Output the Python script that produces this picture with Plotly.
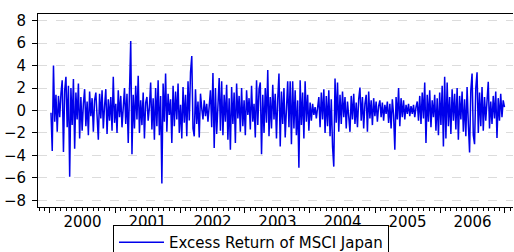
import pandas as pd
import plotly.graph_objects as go

# Weekly excess returns of MSCI Japan, 2000-01-07 .. 2006-12-29
seg_2000 = [-0.2, -3.6, 4.0, -1.0, 1.4, -1.9, 1.3, -0.6, 1.5, 2.7, -3.7, 1.8,
            3.0, -1.5, 2.2, -5.9, 2.0, -1.3, 2.8, -3.4, 1.6, -0.8, 2.4, -2.5,
            1.2, -1.8, 0.6, 1.9, -1.4, 0.8, -2.2, 1.7, -0.5, 1.1, -1.9, 0.9,
            1.6, -1.2, -2.6, 1.5, -0.7, 1.8, -1.6, 0.4, 1.9, -2.1, 1.0, -0.9]
seg_2001 = [1.2, -1.8, 3.0, -1.1, 0.6, -2.0, 1.8, -0.6, 1.3, -1.5, 0.4, 2.0,
            -1.2, 1.5, -2.9, 2.6, 6.2, -3.9, 1.4, -1.6, 2.2, -0.8, 3.1, -2.0,
            0.9, -1.3, 1.6, -2.5, 0.7, 1.2, -0.9, 0.3, 2.5, -1.7, 1.1, -2.6,
            2.0, -1.4, 2.7, -2.2, 1.3, -6.5, 2.4, -1.0, 3.3, -1.9, 1.5, -0.4]
seg_2002 = [1.0, -2.9, 2.2, -1.4, 1.7, -0.8, 2.4, -2.0, 0.5, -2.5, 2.1, -1.1,
            1.4, -2.3, 2.6, -0.9, 3.4, 4.85, -1.6, -2.3, 1.9, -1.2, 0.8, -2.4,
            1.5, 0.2, -0.8, 0.9, -0.5, 0.6, -1.0, 0.4, 1.8, -1.5, 3.35, -3.35,
            2.0, -2.1, 1.2, 2.9, -1.8, 2.6, -2.2, 1.4, -1.0, 2.3, -2.6, 1.1]
seg_2003 = [-3.5, 2.1, -1.2, 1.6, -2.9, 2.4, -0.7, 1.3, -1.9, 2.0, -1.4, 0.9,
            -2.2, 1.8, -0.4, 1.1, -1.7, 2.2, -1.0, 0.6, -2.4, 2.7, -1.3, 1.9,
            2.5, -3.9, 1.4, -2.0, 2.0, -1.1, 3.6, -2.3, 1.2, -1.6, 2.3, -0.8,
            1.5, -2.5, 1.0, 3.3, -3.2, 1.7, -1.2, 2.0, -2.4, 0.8, 2.6, -1.5]
seg_2004 = [2.6, -3.0, 2.6, -1.6, 1.8, -2.2, 0.9, -5.1, 2.7, -1.3, 1.6, -2.5,
            2.6, -1.0, 1.4, -1.8, 0.7, -0.9, 0.6, -0.4, 0.3, -0.7, 0.5, 1.2,
            -1.5, 1.6, -0.8, 1.9, -2.0, 1.3, -1.4, 1.8, -2.3, 1.0, -3.2, -5.0,
            2.85, -1.1, 2.5, -1.9, 1.4, -1.2, 1.7, -0.6, 1.2, -1.6, 0.8, -0.5]
seg_2005 = [-1.9, 1.3, -0.8, 1.5, -1.2, 0.7, -1.5, 1.0, 2.05, -0.9, 1.2, -1.6,
            0.6, 1.4, -1.9, 1.7, -0.7, 0.9, -1.3, 1.1, -0.5, 0.8, -1.0, 0.4,
            0.9, -0.6, 0.7, -0.9, 0.5, -0.3, 0.8, -1.1, 0.6, -1.6, 1.0, -0.4,
            -3.5, 1.2, -0.8, 2.0, -1.4, 1.1, -0.6, 0.9, -0.8, 0.5, -0.3, 0.6]
seg_2006a = [-0.5, 0.4, -0.3, 0.5, -0.6, 0.3, 0.8, -0.9, 1.3, -1.2, 1.6, -0.7,
             2.5, -2.9, 1.4, -1.0, 1.8, -1.5, 0.9, -0.6, 1.4, -1.8, 1.1, -2.2,
             1.6, -1.3, 2.2, -3.2, 3.0, -2.5, 2.5, -1.4, 1.2, -2.1, 1.9, -0.9,
             1.5, -1.7, 2.0, -2.6, 1.3, -0.8, 1.7, -1.9, 1.0, -2.3, 2.1, -1.2]
seg_2006b = [-3.75, 1.8, 3.3, -2.2, -3.0, 2.0, 3.4, -2.0, 1.6, -1.4, 2.1, -1.8,
             1.2, -0.9, 1.5, 2.55, -1.6, 0.8, -1.2, 1.3, -0.7, 1.7, -2.45, 1.1,
             -0.9, 1.5, -0.6, 0.9, 0.3]

values = seg_2000 + seg_2001 + seg_2002 + seg_2003 + seg_2004 + seg_2005 + seg_2006a + seg_2006b
dates = pd.date_range("2000-01-07", periods=len(values), freq="7D")

series_name = "Excess Return of MSCI Japan"
y_ticks = [-8, -6, -4, -2, 0, 2, 4, 6, 8]

FONT = "DejaVu Sans"

fig = go.Figure()
fig.add_trace(go.Scatter(
    x=dates, y=values, mode="lines", name=series_name,
    line=dict(color="rgb(0,0,235)", width=1.5),
))

fig.update_layout(
    width=514, height=252,
    margin=dict(l=38, r=1, t=14, b=45, autoexpand=False),
    paper_bgcolor="white", plot_bgcolor="white",
    showlegend=True,
    legend=dict(
        x=(113 - 38) / 475, y=-18 / 193, xanchor="left", yanchor="top",
        orientation="h", bordercolor="black", borderwidth=1,
        itemwidth=45,
        bgcolor="white", font=dict(family=FONT, size=15, color="black"),
    ),
    font=dict(family=FONT, size=15, color="black"),
)

fig.update_xaxes(
    type="date",
    range=["1999-10-26", "2007-02-15"],
    tick0="2000-01-01", dtick="M12", tickformat="%Y",
    ticklabelmode="period",
    ticks="outside", ticklen=5, tickcolor="black", tickwidth=1,
    ticklabelstandoff=-4,
    showline=True, linecolor="black", linewidth=1, mirror=True,
    showgrid=False, zeroline=False, automargin=False,
    minor=dict(dtick="M1", ticks="outside", ticklen=3, tickcolor="black", showgrid=False),
    tickfont=dict(family=FONT, size=15, color="black"),
)
fig.update_yaxes(
    range=[-8.6, 8.6],
    tickvals=y_ticks,
    ticks="outside", ticklen=5, tickcolor="black",
    ticklabelstandoff=3,
    showline=True, linecolor="black", linewidth=1,
    showgrid=True, gridcolor="#dcdcdc", griddash="dash", gridwidth=1,
    zeroline=False, automargin=False,
    tickfont=dict(family=FONT, size=15, color="black"),
)

fig.write_html(
    "out.html",
    config={"displayModeBar": False},
    post_script="document.body.style.margin='0px';document.body.style.overflow='hidden';",
)
